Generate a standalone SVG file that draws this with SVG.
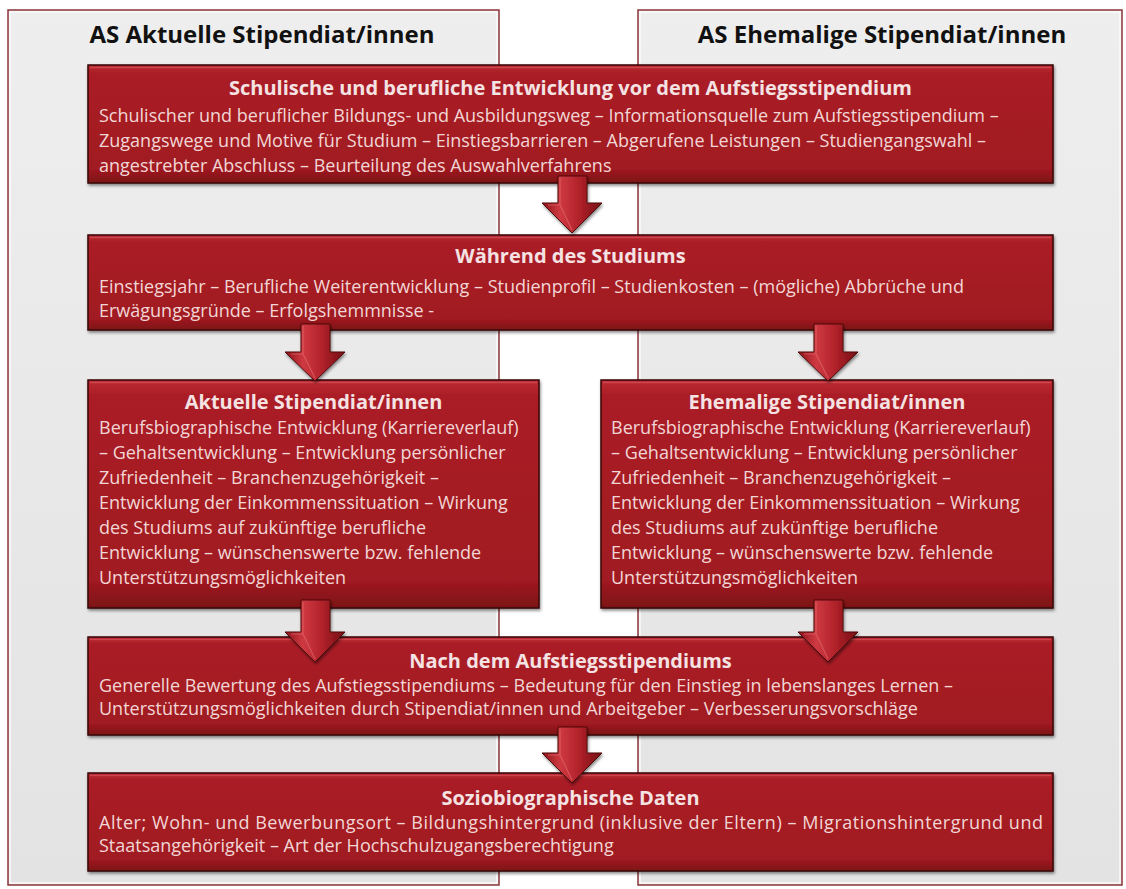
<svg xmlns="http://www.w3.org/2000/svg" width="1126" height="889" viewBox="0 0 1126 889">
<style>
.panel{fill:url(#pg);stroke:#8a3539;stroke-width:1.5}
.pin{fill:none;stroke:#fafafa;stroke-width:1.5}
.box{fill:url(#bg);stroke:#360709;stroke-width:1.5;filter:url(#sh)}
.hl{fill:none;stroke:#d4545a;stroke-width:1.5;opacity:.7}
.head{font-family:"Open Sans","Liberation Sans",sans-serif;font-weight:bold;font-size:24px;fill:#111;text-anchor:middle}
.ttl{font-family:"Open Sans","Liberation Sans",sans-serif;font-weight:bold;font-size:20px;fill:#f5e2e2;text-anchor:middle}
.txt{font-family:"Open Sans","Liberation Sans",sans-serif;font-size:18px;fill:#f2d6d6}
.arr{fill:url(#ag);stroke:#4e0a0d;stroke-width:1;filter:url(#sh)}
.bev{fill:none;stroke:#e0626a;stroke-width:1.2;opacity:.7}
</style>
<defs>
<linearGradient id="pg" x1="0" y1="0" x2="0" y2="1">
<stop offset="0" stop-color="#eeeeee"/><stop offset="1" stop-color="#e3e3e3"/>
</linearGradient>
<linearGradient id="bg" x1="0" y1="0" x2="0" y2="1">
<stop offset="0" stop-color="#bd2a32"/><stop offset="0.07" stop-color="#aa1e26"/><stop offset="0.88" stop-color="#a01a21"/><stop offset="1" stop-color="#7c1116"/>
</linearGradient>
<linearGradient id="ag" x1="0" y1="0" x2="1" y2="0">
<stop offset="0" stop-color="#8a1318"/><stop offset="0.3" stop-color="#cf3a42"/><stop offset="0.6" stop-color="#b3232b"/><stop offset="1" stop-color="#740f14"/>
</linearGradient>
<filter id="sh" x="-5%" y="-10%" width="110%" height="125%">
<feDropShadow dx="1" dy="2" stdDeviation="1.5" flood-color="#000" flood-opacity="0.45"/>
</filter>
</defs>
<rect width="1126" height="889" fill="#fff"/>
<g id="panel-left"><rect class="panel" x="8" y="10" width="491" height="875"/><rect class="pin" x="10" y="12" width="487" height="871"/><text class="head" x="262" y="43">AS Aktuelle Stipendiat/innen</text></g>
<g id="panel-right"><rect class="panel" x="638" y="10" width="484" height="875"/><rect class="pin" x="640" y="12" width="480" height="871"/><text class="head" x="882" y="43">AS Ehemalige Stipendiat/innen</text></g>

<g id="box1"><rect class="box" x="88" y="65" width="965" height="118"/><line class="hl" x1="90" y1="67.5" x2="1051" y2="67.5"/>
<text class="ttl" x="570.5" y="95">Schulische und berufliche Entwicklung vor dem Aufstiegsstipendium</text>
<text class="txt" x="99" y="122">Schulischer und beruflicher Bildungs- und Ausbildungsweg – Informationsquelle zum Aufstiegsstipendium –</text>
<text class="txt" x="99" y="147">Zugangswege und Motive für Studium – Einstiegsbarrieren – Abgerufene Leistungen – Studiengangswahl –</text>
<text class="txt" x="99" y="172">angestrebter Abschluss – Beurteilung des Auswahlverfahrens</text></g>

<g id="box2"><rect class="box" x="88" y="235" width="965" height="95"/><line class="hl" x1="90" y1="237.5" x2="1051" y2="237.5"/>
<text class="ttl" x="570.5" y="263">Während des Studiums</text>
<text class="txt" x="99" y="293">Einstiegsjahr – Berufliche Weiterentwicklung – Studienprofil – Studienkosten – (mögliche) Abbrüche und</text>
<text class="txt" x="99" y="317">Erwägungsgründe – Erfolgshemmnisse -</text></g>

<g id="box3"><rect class="box" x="88" y="380" width="451" height="228"/><line class="hl" x1="90" y1="382.5" x2="537" y2="382.5"/>
<text class="ttl" x="313.5" y="409">Aktuelle Stipendiat/innen</text>
<text class="txt" x="99" y="434">Berufsbiographische Entwicklung (Karriereverlauf)</text>
<text class="txt" x="99" y="459">– Gehaltsentwicklung – Entwicklung persönlicher</text>
<text class="txt" x="99" y="484">Zufriedenheit – Branchenzugehörigkeit –</text>
<text class="txt" x="99" y="509">Entwicklung der Einkommenssituation – Wirkung</text>
<text class="txt" x="99" y="534">des Studiums auf zukünftige berufliche</text>
<text class="txt" x="99" y="559">Entwicklung – wünschenswerte bzw. fehlende</text>
<text class="txt" x="99" y="584">Unterstützungsmöglichkeiten</text></g>

<g id="box4"><rect class="box" x="601" y="380" width="452" height="228"/><line class="hl" x1="603" y1="382.5" x2="1051" y2="382.5"/>
<text class="ttl" x="827" y="409">Ehemalige Stipendiat/innen</text>
<text class="txt" x="611" y="434">Berufsbiographische Entwicklung (Karriereverlauf)</text>
<text class="txt" x="611" y="459">– Gehaltsentwicklung – Entwicklung persönlicher</text>
<text class="txt" x="611" y="484">Zufriedenheit – Branchenzugehörigkeit –</text>
<text class="txt" x="611" y="509">Entwicklung der Einkommenssituation – Wirkung</text>
<text class="txt" x="611" y="534">des Studiums auf zukünftige berufliche</text>
<text class="txt" x="611" y="559">Entwicklung – wünschenswerte bzw. fehlende</text>
<text class="txt" x="611" y="584">Unterstützungsmöglichkeiten</text></g>

<g id="box5"><rect class="box" x="88" y="637" width="965" height="98"/><line class="hl" x1="90" y1="639.5" x2="1051" y2="639.5"/>
<text class="ttl" x="570.5" y="668">Nach dem Aufstiegsstipendiums</text>
<text class="txt" x="99" y="692">Generelle Bewertung des Aufstiegsstipendiums – Bedeutung für den Einstieg in lebenslanges Lernen –</text>
<text class="txt" x="99" y="715">Unterstützungsmöglichkeiten durch Stipendiat/innen und Arbeitgeber – Verbesserungsvorschläge</text></g>

<g id="box6"><rect class="box" x="88" y="773" width="965" height="98"/><line class="hl" x1="90" y1="775.5" x2="1051" y2="775.5"/>
<text class="ttl" x="570.5" y="805">Soziobiographische Daten</text>
<text class="txt" x="99" y="829" textLength="944" lengthAdjust="spacing">Alter; Wohn- und Bewerbungsort – Bildungshintergrund (inklusive der Eltern) – Migrationshintergrund und</text>
<text class="txt" x="99" y="852">Staatsangehörigkeit – Art der Hochschulzugangsberechtigung</text></g>

<g id="connectors">
<path class="arr" d="M558,176 h29 v27 h15 l-30,30 l-30,-30 h16 z"/>
<path class="bev" d="M560,178 v27 h-12 M560,205 l12,25"/>
<path class="arr" d="M301,324 h29 v28 h15 l-30,29 l-30,-29 h16 z"/>
<path class="bev" d="M303,326 v28 h-12 M303,354 l12,24"/>
<path class="arr" d="M814,324 h29 v28 h15 l-30,29 l-30,-29 h16 z"/>
<path class="bev" d="M816,326 v28 h-12 M816,354 l12,24"/>
<path class="arr" d="M301,600 h29 v32 h15 l-30,30 l-30,-30 h16 z"/>
<path class="bev" d="M303,602 v32 h-12 M303,634 l12,25"/>
<path class="arr" d="M814,600 h29 v32 h15 l-30,30 l-30,-30 h16 z"/>
<path class="bev" d="M816,602 v32 h-12 M816,634 l12,25"/>
<path class="arr" d="M558,727 h29 v26 h15 l-30,30 l-30,-30 h16 z"/>
<path class="bev" d="M560,729 v26 h-12 M560,755 l12,25"/>
</g>
</svg>
